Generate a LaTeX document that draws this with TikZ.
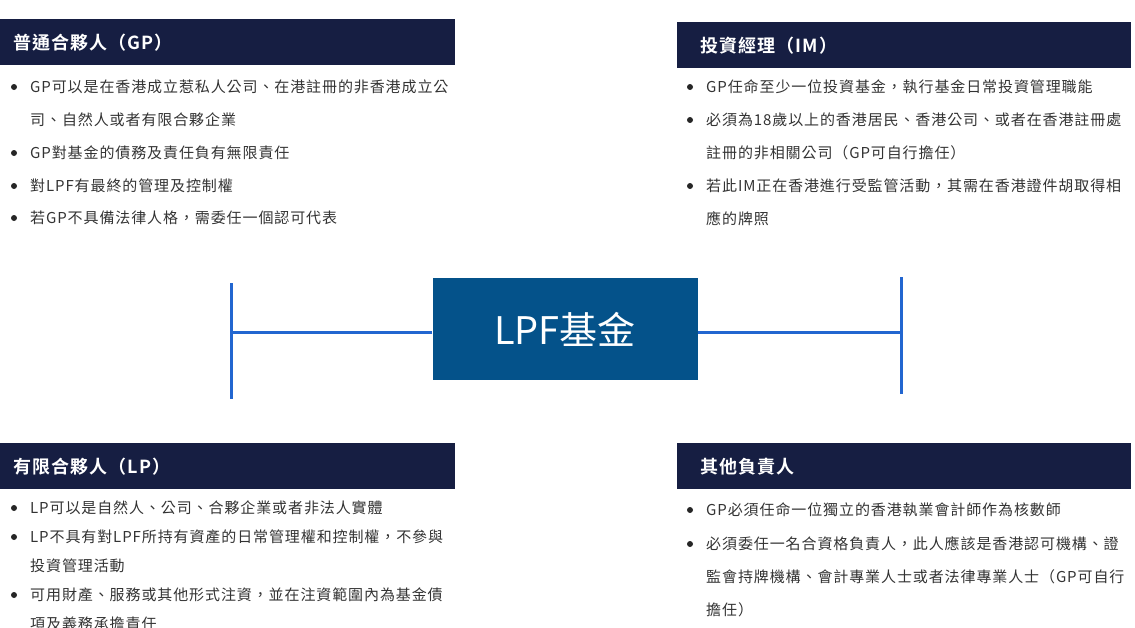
\documentclass[tikz,border=0pt]{standalone}
\usepackage{fontspec}
\setmainfont{Noto Sans CJK TC}[BoldFont={Noto Sans CJK TC Bold}]
\usepackage{tikz}
\usetikzlibrary{positioning}
\definecolor{barnavy}{HTML}{161E42}
\definecolor{fundblue}{HTML}{04528A}
\definecolor{linkblue}{HTML}{2266D0}
\definecolor{bodygray}{HTML}{333333}
\newcommand{\bodytxt}{\fontsize{15}{33}\selectfont\addfontfeature{LetterSpace=6}}
\newcommand{\bodytxtlp}{\fontsize{15}{29}\selectfont\addfontfeature{LetterSpace=6}}
\newcommand{\itemlines}[1]{\begin{tabular}[t]{@{}l@{}}#1\end{tabular}}
\tikzset{
    bar/.style={fill=barnavy, anchor=north west, inner sep=0pt, minimum height=46pt},
    title/.style={anchor=west, inner sep=0pt, text=white, font=\fontsize{18}{22}\selectfont\bfseries\addfontfeature{LetterSpace=6}},
    item/.style={anchor=base west, inner sep=0pt, text=bodygray, font=\bodytxt},
    dot/.style={fill=black!85},
    fund/.style={fill=fundblue, text=white, minimum width=265pt, minimum height=102pt, inner sep=0pt, font=\fontsize{38}{40}\selectfont},
    link/.style={draw=linkblue, line width=3pt}
}
\begin{document}
\begin{tikzpicture}[x=1pt, y=-1pt]
  \useasboundingbox (0,0) rectangle (1135,627);

  % title bars
  \node[bar, minimum width=455pt] (gpbar) at (0,19) {};
  \node[title, right=13pt of gpbar.west] (gptitle) {普通合夥人（GP）};
  \node[bar, minimum width=454pt] (imbar) at (677,22) {};
  \node[title, right=23pt of imbar.west] (imtitle) {投資經理（IM）};
  \node[bar, minimum width=455pt] (lpbar) at (0,443) {};
  \node[title, right=13pt of lpbar.west] (lptitle) {有限合夥人（LP）};
  \node[bar, minimum width=454pt] (otbar) at (677,443) {};
  \node[title, right=23pt of otbar.west] (ottitle) {其他負責人};

  % bullet items
  \foreach \name/\x/\y/\txt in {
      gpa/30/92.5/{GP可以是在香港成立惹私人公司、在港註冊的非香港成立公\\司、自然人或者有限合夥企業},
      gpb/30/158.5/{GP對基金的債務及責任負有無限責任},
      gpc/30/191.5/{對LPF有最終的管理及控制權},
      gpd/30/223.5/{若GP不具備法律人格，需委任一個認可代表},
      ima/706/92.5/{GP任命至少一位投資基金，執行基金日常投資管理職能},
      imb/706/125.5/{必須為18歲以上的香港居民、香港公司、或者在香港註冊處\\註冊的非相關公司（GP可自行擔任）},
      imc/706/191.5/{若此IM正在香港進行受監管活動，其需在香港證件胡取得相\\應的牌照},
      ota/706/515.5/{GP必須任命一位獨立的香港執業會計師作為核數師},
      otb/706/549.5/{必須委任一名合資格負責人，此人應該是香港認可機構、證\\監會持牌機構、會計專業人士或者法律專業人士（GP可自行\\擔任）}}
  {
    \node[item] (\name) at (\x,\y) {\itemlines{\txt}};
    \fill[dot] ([xshift=-16pt, yshift=5.5pt]\name.base west) circle (3pt);
  }
  \foreach \name/\y/\txt in {
      lpa/513.5/{LP可以是自然人、公司、合夥企業或者非法人實體},
      lpb/542.5/{LP不具有對LPF所持有資產的日常管理權和控制權，不參與\\投資管理活動},
      lpc/600.5/{可用財產、服務或其他形式注資，並在注資範圍內為基金債\\項及義務承擔責任}}
  {
    \node[item, font=\bodytxtlp] (\name) at (30,\y) {\itemlines{\txt}};
    \fill[dot] ([xshift=-16pt, yshift=5.5pt]\name.base west) circle (3pt);
  }

  % fund and connectors
  \node[fund] (lpf) at (565,329) {LPF基金};
  \coordinate (ljoin) at (231,332);
  \coordinate (ltop) at (231,283);
  \coordinate (lbot) at (231,399);
  \coordinate (rjoin) at (901,332);
  \coordinate (rtop) at (901,277);
  \coordinate (rbot) at (901,394);
  \draw[link] (lpf.west |- ljoin) -- (ljoin);
  \draw[link] (ltop) -- (lbot);
  \draw[link] (lpf.east |- rjoin) -- (rjoin);
  \draw[link] (rtop) -- (rbot);
\end{tikzpicture}
\end{document}
